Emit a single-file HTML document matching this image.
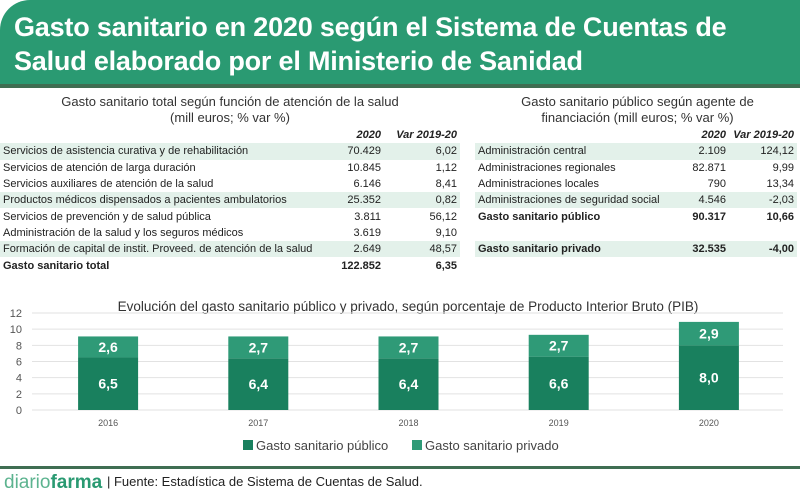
<!DOCTYPE html>
<html><head><meta charset="utf-8">
<style>
body{margin:0;width:800px;height:495px;background:#fff;font-family:"Liberation Sans",sans-serif;position:relative;overflow:hidden;color:#222}
.hdr{position:absolute;left:0;top:0;width:800px;height:84px;background:#2a9a72;border-top-left-radius:30px}
.band{position:absolute;left:0;top:84px;width:800px;height:4px;background:#3f6e52}
.title{position:absolute;left:14px;top:10px;color:#fff;font-weight:bold;font-size:27px;line-height:34px;letter-spacing:-0.2px}
.tt{position:absolute;text-align:center;font-size:13px;line-height:16px;color:#333}
table{position:absolute;border-collapse:collapse;font-size:11px}
td{height:16.3px;padding:0 3px;white-space:nowrap;line-height:16px}
td.n{text-align:right}
tr.s td{background:#e3f1ea}
tr.b td{font-weight:bold}
tr.h td{font-weight:bold;font-style:italic;text-align:right}
.foot{position:absolute;left:0;top:466px;width:800px;height:3px;background:#3f6e52}
</style></head><body>
<div class="hdr"></div>
<div class="band"></div>
<div class="title">Gasto sanitario en 2020 según el Sistema de Cuentas de<br>Salud elaborado por el Ministerio de Sanidad</div>

<div class="tt" style="left:0;width:460px;top:94px">Gasto sanitario total según función de atención de la salud<br>(mill euros; % var %)</div>
<table style="left:0;top:127px;width:460px">
<tr class="h"><td></td><td style="width:60px">2020</td><td style="width:70px">Var 2019-20</td></tr>
<tr class="s"><td>Servicios de asistencia curativa y de rehabilitación</td><td class="n">70.429</td><td class="n">6,02</td></tr>
<tr><td>Servicios de atención de larga duración</td><td class="n">10.845</td><td class="n">1,12</td></tr>
<tr><td>Servicios auxiliares de atención de la salud</td><td class="n">6.146</td><td class="n">8,41</td></tr>
<tr class="s"><td>Productos médicos dispensados a pacientes ambulatorios</td><td class="n">25.352</td><td class="n">0,82</td></tr>
<tr><td>Servicios de prevención y de salud pública</td><td class="n">3.811</td><td class="n">56,12</td></tr>
<tr><td>Administración de la salud y los seguros médicos</td><td class="n">3.619</td><td class="n">9,10</td></tr>
<tr class="s"><td>Formación de capital de instit. Proveed. de atención de la salud</td><td class="n">2.649</td><td class="n">48,57</td></tr>
<tr class="b"><td>Gasto sanitario total</td><td class="n">122.852</td><td class="n">6,35</td></tr>
</table>

<div class="tt" style="left:475px;width:325px;top:94px">Gasto sanitario público según agente de<br>financiación (mill euros; % var %)</div>
<table style="left:475px;top:127px;width:322px">
<tr class="h"><td></td><td style="width:50px">2020</td><td style="width:62px">Var 2019-20</td></tr>
<tr class="s"><td>Administración central</td><td class="n">2.109</td><td class="n">124,12</td></tr>
<tr><td>Administraciones regionales</td><td class="n">82.871</td><td class="n">9,99</td></tr>
<tr><td>Administraciones locales</td><td class="n">790</td><td class="n">13,34</td></tr>
<tr class="s"><td>Administraciones de seguridad social</td><td class="n">4.546</td><td class="n">-2,03</td></tr>
<tr class="b"><td>Gasto sanitario público</td><td class="n">90.317</td><td class="n">10,66</td></tr>
<tr><td></td><td></td><td></td></tr>
<tr class="s b"><td>Gasto sanitario privado</td><td class="n">32.535</td><td class="n">-4,00</td></tr>
</table>

<svg id="chart" style="position:absolute;left:0;top:290px" width="800" height="175"></svg>

<div class="foot"></div>
<div style="position:absolute;left:4px;top:472px;font-size:19px;line-height:22px"><span style="color:#5cb38f">diario</span><span style="color:#2a9a72;font-weight:bold">farma</span></div>
<div style="position:absolute;left:107px;top:474px;font-size:13px;color:#222">| Fuente: Estadística de Sistema de Cuentas de Salud.</div>

<script>
const years=["2016","2017","2018","2019","2020"];
const publico=[6.5,6.4,6.4,6.6,8.0];
const privado=[2.6,2.7,2.7,2.7,2.9];
const yTicks=[0,2,4,6,8,10,12];
const NS="http://www.w3.org/2000/svg";
const svg=document.getElementById('chart');
const X0=32,X1=783,Y0=120,Ymax=12,PH=97;
const y=v=>Y0-v/Ymax*PH;
const band=(X1-X0)/years.length;
const xc=i=>X0+band*(i+0.5)+1;
function mk(t,a){const e=document.createElementNS(NS,t);for(const k in a)e.setAttribute(k,a[k]);svg.appendChild(e);return e;}
let t=mk('text',{x:408,y:21,'text-anchor':'middle','font-size':13.5,fill:'#333'});
t.textContent='Evolución del gasto sanitario público y privado, según porcentaje de Producto Interior Bruto (PIB)';


yTicks.forEach(v=>{
 const l=mk('line',{x1:X0,x2:X1,y1:y(v),y2:y(v),stroke:'#e2e2e2'});
 
 
 const tx=mk('text',{x:22,y:y(v)+4,'text-anchor':'end','font-size':11,fill:'#555'});
 tx.textContent=v;
 
 
});
years.forEach((yr,i)=>{
 const w=60,x=xc(i)-w/2;
 const b1=mk('rect',{x:x,y:y(publico[i]),width:w,height:y(0)-y(publico[i]),fill:'#19805e'});
 
 
 const tot=publico[i]+privado[i];
 const b2=mk('rect',{x:x,y:y(tot),width:w,height:y(publico[i])-y(tot),fill:'#2f9a77'});
 
 
 const l1=mk('text',{x:xc(i),y:(y(0)+y(publico[i]))/2+5,'text-anchor':'middle','font-size':14,'font-weight':'bold',fill:'#fff'});
 l1.textContent=publico[i].toFixed(1).replace('.',',');
 
 
 const l2=mk('text',{x:xc(i),y:(y(publico[i])+y(tot))/2+5,'text-anchor':'middle','font-size':14,'font-weight':'bold',fill:'#fff'});
 l2.textContent=privado[i].toFixed(1).replace('.',',');
 
 
 const xl=mk('text',{x:xc(i),y:Y0+16,'text-anchor':'middle','font-size':9,fill:'#555'});
 xl.textContent=yr;
 
 
});
[['Gasto sanitario público','#19805e',243],['Gasto sanitario privado','#2f9a77',412]].forEach(d=>{
 const r=mk('rect',{x:d[2],y:150,width:10,height:10,fill:d[1]});
 
 
 const tx=mk('text',{x:d[2]+13,y:160,'font-size':13,fill:'#444'});
 tx.textContent=d[0];
 
 
});
</script>
</body></html>
